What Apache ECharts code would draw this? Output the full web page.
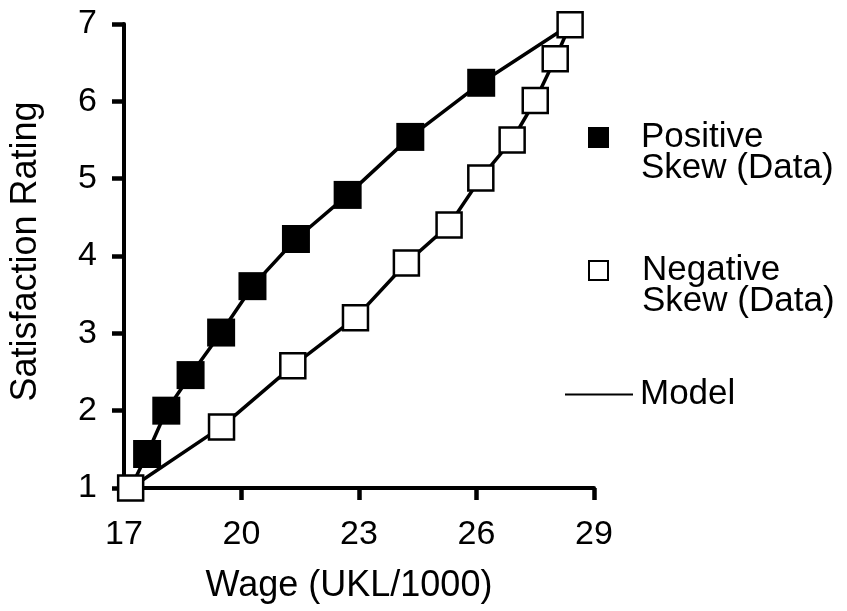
<!DOCTYPE html>
<html>
<head>
<meta charset="utf-8">
<script src="https://cdn.jsdelivr.net/npm/echarts@6/dist/echarts.min.js"></script>
<style>
html,body{margin:0;padding:0;background:#fff;}
#chart{width:847px;height:611px;}
</style>
</head>
<body>
<div id="chart"></div>
<script>
// ---- data ----
var posX = [17.59, 18.08, 18.70, 19.48, 20.28, 21.39, 22.71, 24.31, 26.12];
var posY = [1.44, 2.00, 2.46, 3.01, 3.61, 4.22, 4.79, 5.54, 6.24];
var negX = [17.17, 19.49, 21.31, 22.91, 24.21, 25.30, 26.11, 26.91, 27.50, 28.01, 28.39];
var negY = [1.00, 1.79, 2.58, 3.20, 3.91, 4.40, 5.01, 5.50, 6.01, 6.55, 6.99];
var modelPosX = [17.17, 17.59, 18.08, 18.70, 19.48, 20.28, 21.39, 22.71, 24.31, 26.12, 28.39];
var modelPosY = [1.00, 1.44, 2.00, 2.46, 3.01, 3.61, 4.22, 4.79, 5.54, 6.24, 6.99];
var modelNegX = [17.17, 19.49, 21.31, 22.91, 24.21, 25.30, 26.11, 26.91, 27.50, 28.01, 28.39];
var modelNegY = [1.00, 1.79, 2.58, 3.20, 3.91, 4.40, 5.01, 5.50, 6.01, 6.55, 6.99];
var xTicks = [17, 20, 23, 26, 29];
var yTicks = [1, 2, 3, 4, 5, 6, 7];
var xTitle = 'Wage (UKL/1000)';
var yTitle = 'Satisfaction Rating';
var posName = 'Positive Skew (Data)';
var negName = 'Negative Skew (Data)';
var modelName = 'Model';

function pairs(xs, ys) { return xs.map(function (x, i) { return [x, ys[i]]; }); }

var FONT = 'Liberation Sans, Arial, Helvetica, sans-serif';
var TICK_FS = 34, TITLE_FS = 36, LEG_FS = 35;

var chart = echarts.init(document.getElementById('chart'), null, {renderer: 'canvas'});
var option = {
  backgroundColor: '#fff',
  animation: false,
  grid: {left: 124, right: 253, top: 24, bottom: 123, containLabel: false},
  xAxis: {
    type: 'value', min: 17, max: 29,
    name: xTitle, nameLocation: 'middle', nameGap: 80,
    nameTextStyle: {fontFamily: FONT, fontSize: TITLE_FS, color: '#000', padding: [0, 20, 0, 0]},
    axisLine: {show: true, onZero: false, lineStyle: {color: '#000', width: 4}},
    axisTick: {show: true, length: 12, lineStyle: {color: '#000', width: 4.5}, customValues: xTicks},
    axisLabel: {fontFamily: FONT, fontSize: TICK_FS, color: '#000', margin: 30, customValues: xTicks},
    splitLine: {show: false}
  },
  yAxis: {
    type: 'value', min: 1, max: 7,
    name: yTitle, nameLocation: 'middle', nameGap: 80,
    nameTextStyle: {fontFamily: FONT, fontSize: TITLE_FS, color: '#000', padding: [0, 0, 0, 9]},
    axisLine: {show: true, onZero: false, lineStyle: {color: '#000', width: 4}},
    axisTick: {show: true, length: 12, lineStyle: {color: '#000', width: 4.5}, customValues: yTicks},
    axisLabel: {fontFamily: FONT, fontSize: TICK_FS, color: '#000', margin: 27, customValues: yTicks},
    splitLine: {show: false}
  },
  legend: [
    {
      left: 588, top: 87, padding: 0, selectedMode: false,
      data: [{name: posName, icon: 'rect'}],
      itemWidth: 21, itemHeight: 21,
      itemStyle: {color: '#000', borderWidth: 0},
      formatter: function () { return '\nPositive\nSkew (Data)'; },
      textStyle: {fontFamily: FONT, fontSize: LEG_FS, lineHeight: 31, color: '#000', padding: [0, 0, 8, 27]}
    },
    {
      left: 588, top: 218, padding: 0, selectedMode: false,
      data: [{name: negName, icon: 'rect'}],
      itemWidth: 19, itemHeight: 19,
      itemStyle: {color: '#fff', borderColor: '#000', borderWidth: 2},
      formatter: function () { return '\nNegative\nSkew (Data)'; },
      textStyle: {fontFamily: FONT, fontSize: LEG_FS, lineHeight: 31, color: '#000', padding: [0, 0, 12, 29]}
    },
    {
      left: 565, top: 377, padding: 0, selectedMode: false,
      data: [{name: modelName, icon: 'rect'}],
      itemWidth: 68, itemHeight: 2,
      itemStyle: {color: '#000', borderWidth: 0},
      formatter: function () { return 'Model'; },
      textStyle: {fontFamily: FONT, fontSize: LEG_FS, color: '#000', padding: [0, 0, 0, 2]}
    }
  ],
  series: [
    {
      name: modelName, type: 'line', data: pairs(modelPosX, modelPosY),
      symbol: 'none', clip: false, z: 2,
      lineStyle: {color: '#000', width: 3.5}, itemStyle: {color: '#000'}
    },
    {
      name: modelName, type: 'line', data: pairs(modelNegX, modelNegY),
      symbol: 'none', clip: false, z: 2,
      lineStyle: {color: '#000', width: 3.5}, itemStyle: {color: '#000'}
    },
    {
      name: posName, type: 'scatter', data: pairs(posX, posY),
      symbol: 'rect', symbolSize: 28, clip: false, z: 3,
      itemStyle: {color: '#000', opacity: 1}
    },
    {
      name: negName, type: 'scatter', data: pairs(negX, negY),
      symbol: 'rect', symbolSize: 25, clip: false, z: 4,
      itemStyle: {color: '#fff', borderColor: '#000', borderWidth: 2.5, opacity: 1}
    }
  ]
};
chart.setOption(option);
</script>
</body>
</html>
